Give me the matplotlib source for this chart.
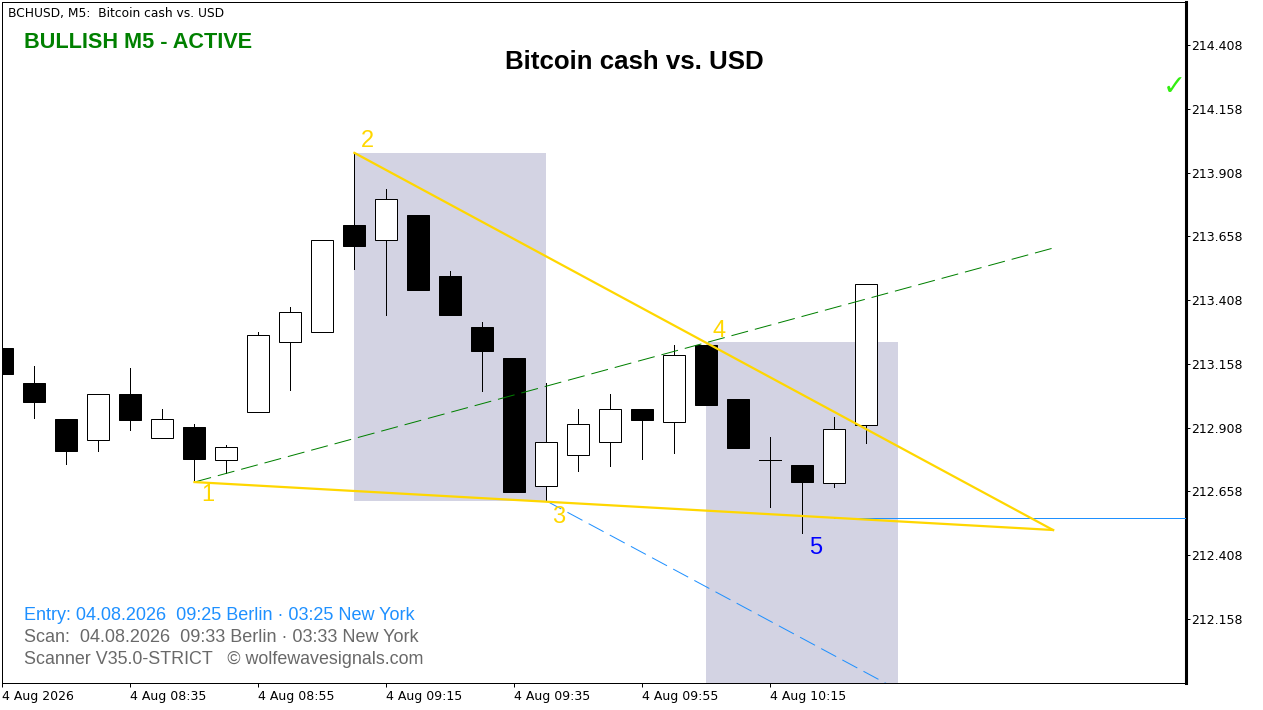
import matplotlib
matplotlib.use("Agg")
import matplotlib.pyplot as plt
from matplotlib.patches import Rectangle

W, H = 1263, 710

# candle values
opens  = [213.220,213.083,212.941,212.859,213.039,212.867,212.910,212.781,212.969,213.243,
          213.283,213.702,213.643,213.741,213.502,213.302,213.181,212.679,212.800,212.851,
          212.981,212.930,213.232,213.020,212.781,212.761,212.690,212.918]
closes = [213.118,213.008,212.816,213.039,212.937,212.941,212.785,212.832,213.271,213.361,
          213.643,213.620,213.804,213.447,213.349,213.208,212.655,212.851,212.922,212.981,
          212.937,213.192,212.996,212.828,212.781,212.694,212.902,213.471]
highs  = [213.220,213.149,212.941,213.039,213.141,212.981,212.922,212.839,213.283,213.381,
          213.643,213.985,213.843,213.741,213.522,213.322,213.181,213.083,212.981,213.039,
          212.981,213.232,213.232,213.020,212.871,212.761,212.949,213.471]
lows   = [213.118,212.945,212.765,212.816,212.898,212.867,212.694,212.730,212.969,213.055,
          213.283,213.530,213.349,213.447,213.349,213.051,212.655,212.620,212.737,212.757,
          212.785,212.808,212.996,212.828,212.596,212.494,212.675,212.847]

time_labels = ["4 Aug 2026","4 Aug 08:35","4 Aug 08:55","4 Aug 09:15",
               "4 Aug 09:35","4 Aug 09:55","4 Aug 10:15"]
time_bars = [0,4,8,12,16,20,24]
price_ticks = [214.408,214.158,213.908,213.658,213.408,213.158,212.908,212.658,212.408,212.158]

zone_a = (11, 17, 212.620, 213.985)
zone_b = (22, 28, 211.850, 213.243)

# wedge pivots: (bar, price)
p1 = (6, 212.694)
p2 = (11, 213.985)
p3 = (17, 212.620)
entry_bar = 26
apex = (32.84, 212.506)
green_end = (32.85, 213.612)
blue_end = (28.5, 211.845)
entry_price = 212.553
pivot_labels = [("1", 6.41, 212.642), ("2", 11.41, 214.030), ("3", 17.38, 212.558),
                ("4", 22.41, 213.285), ("5", 25.41, 212.437)]

FONT = "Liberation Sans"
YELLOW = "#FFD700"
BLUE = "#1E90FF"
GREEN = "#008000"
GREY = "#696969"
ZONE = "#D3D3E3"
THIN = 0.72

fig = plt.figure(figsize=(W/100, H/100), dpi=100, facecolor="white")
L, R, T, B = 2.5, 1185.5, 2.0, 683.0
ax = fig.add_axes([L/W, 1-B/H, (R-L)/W, (B-T)/H])
ax.set_xlim(0, 36.98)
ax.set_ylim(211.906, 214.5767)

for x0, x1, y0, y1 in (zone_a, zone_b):
    ax.add_patch(Rectangle((x0, y0), x1-x0, y1-y0, fc=ZONE, ec="none", zorder=1))

bw = 22/32
for i, (o, c, h, l) in enumerate(zip(opens, closes, highs, lows)):
    ax.vlines(i, l, h, color="black", lw=THIN, zorder=2, antialiased=False)
    top, bot = max(o, c), min(o, c)
    if o == c:
        ax.hlines(o, i-bw/2, i+bw/2, color="black", lw=THIN, zorder=3, antialiased=False)
    else:
        ax.add_patch(Rectangle((i-bw/2, bot), bw, top-bot, fc="black" if c < o else "white",
                               ec="black", lw=THIN, zorder=3))

ax.plot([p1[0], green_end[0]], [p1[1], green_end[1]], color=GREEN, lw=THIN,
        ls=(0, (17.2, 7)), zorder=4)
ax.plot([p3[0], blue_end[0]], [p3[1], blue_end[1]], color=BLUE, lw=THIN,
        ls=(0, (17, 7)), zorder=4)
ax.hlines(entry_price, entry_bar, ax.get_xlim()[1], color=BLUE, lw=THIN, zorder=4, antialiased=False)
ax.plot([p1[0], apex[0]], [p1[1], apex[1]], color=YELLOW, lw=1.6, zorder=5)
ax.plot([p2[0], apex[0]], [p2[1], apex[1]], color=YELLOW, lw=1.6, zorder=5)

for s, x, y in pivot_labels:
    ax.text(x, y, s, color="#0000FF" if s == "5" else YELLOW, fontsize=17,
            family=FONT, ha="center", va="center", zorder=6)

for s in ax.spines.values():
    s.set_linewidth(THIN)
ax.spines["right"].set_linewidth(2.2)

ax.yaxis.tick_right()
ax.set_yticks(price_ticks)
ax.set_yticklabels([f"{v:.3f}" for v in price_ticks])
ax.set_xticks(time_bars)
ax.set_xticklabels(time_labels, ha="left")
ax.tick_params(axis="y", length=3, width=THIN, pad=1, labelsize=9)
ax.tick_params(axis="x", length=3, width=THIN, pad=2, labelsize=9)

def put(x, y, s, **kw):
    fig.text(x/W, 1-y/H, s, va="center", **kw)

put(8, 13, "BCHUSD, M5:  Bitcoin cash vs. USD", fontsize=8.8, family="DejaVu Sans", ha="left")
put(24, 42.5, "BULLISH M5 - ACTIVE", fontsize=15.6, fontweight="bold", color=GREEN, family=FONT, ha="left")
put(634.5, 62, "Bitcoin cash vs. USD", fontsize=18.6, fontweight="bold", color="black", family=FONT, ha="center")
put(24, 615.5, "Entry: 04.08.2026  09:25 Berlin · 03:25 New York", fontsize=13, color=BLUE, family=FONT, ha="left")
put(24, 637.5, "Scan:  04.08.2026  09:33 Berlin · 03:33 New York", fontsize=13, color=GREY, family=FONT, ha="left")
put(24, 659.5, "Scanner V35.0-STRICT   © wolfewavesignals.com", fontsize=12.9, color=GREY, family=FONT, ha="left")
put(1174.5, 87, "✓", fontsize=20, color="#33EE11", family="DejaVu Sans", ha="center")

fig.savefig("out.png", dpi=100, facecolor="white")
